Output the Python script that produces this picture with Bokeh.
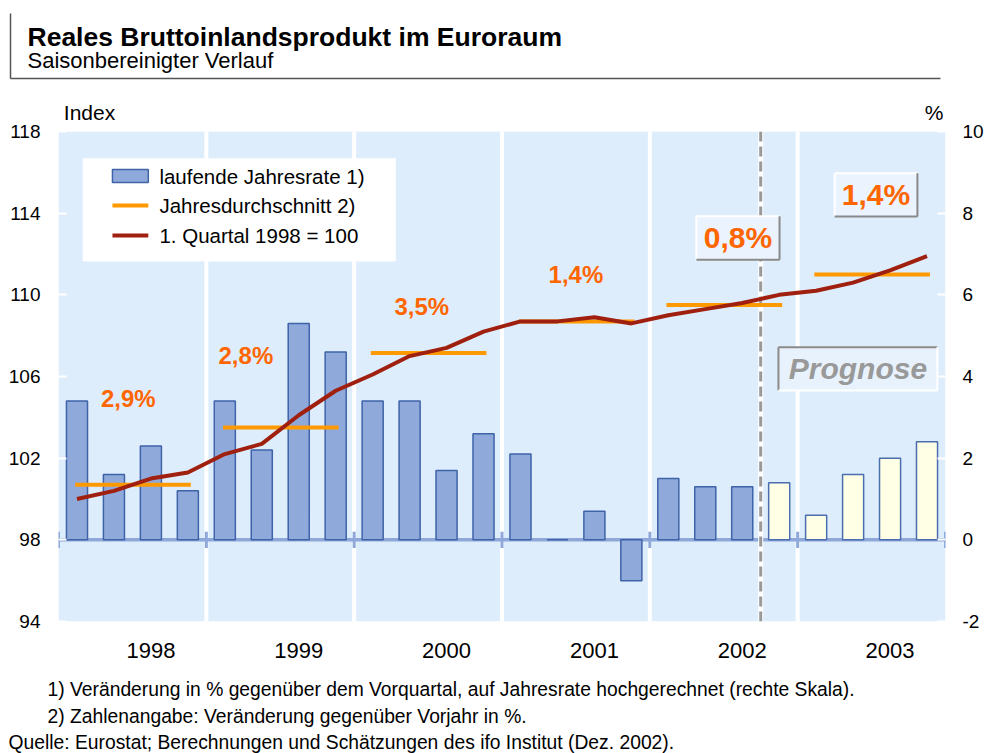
from bokeh.plotting import figure
from bokeh.models import Range1d, LinearAxis, FixedTicker
from bokeh.layouts import column
from bokeh.core.properties import value
from bokeh.embed import file_html
from bokeh.resources import INLINE

# ---------------- data ----------------
years = ["1998", "1999", "2000", "2001", "2002", "2003"]
# laufende Jahresrate (right scale, %), quarterly
rate = [3.4, 1.6, 2.3, 1.2,
        3.4, 2.2, 5.3, 4.6,
        3.4, 3.4, 1.7, 2.6,
        2.1, 0.0, 0.7, -1.0,
        1.5, 1.3, 1.3, 1.4,
        0.6, 1.6, 2.0, 2.4]
# 1. Quartal 1998 = 100 (left scale), quarterly
index = [100.0, 100.4, 101.0, 101.3,
         102.2, 102.7, 104.1, 105.3,
         106.1, 107.0, 107.4, 108.2,
         108.7, 108.7, 108.9, 108.6,
         109.0, 109.3, 109.6, 110.0,
         110.2, 110.6, 111.2, 111.9]
# Jahresdurchschnitt (left scale)
avg_index = [100.7, 103.5, 107.15, 108.7, 109.5, 111.0]
growth_labels = ["2,9%", "2,8%", "3,5%", "1,4%", "0,8%", "1,4%"]
n_observed = 19  # quarters before the forecast
left_ticks = [94, 98, 102, 106, 110, 114, 118]
right_ticks = [-2, 0, 2, 4, 6, 8, 10]
axis_titles = ["Index", "%"]

FONT = value("Liberation Sans")
W = 986


def block(h, y0):
    f = figure(width=W, height=h, x_range=Range1d(0, W), y_range=Range1d(y0 + h, y0),
               toolbar_location=None, output_backend="svg", min_border=0,
               x_axis_location=None, y_axis_location=None, frame_align=False)
    f.grid.visible = False
    f.outline_line_color = None
    return f


# ---------------- top block (page coordinates) ----------------
TOP_H = 92
top = block(TOP_H, 0)
top.segment(x0=[10, 10], y0=[13, 78], x1=[10, 940], y1=[78, 78], line_color="#555555", line_width=1.5)
top.text(x=[27], y=[36], text=["Reales Bruttoinlandsprodukt im Euroraum"], text_font=FONT,
         text_font_style="bold", text_font_size="26.5px", text_baseline="alphabetic", text_color="black")
top.text(x=[27], y=[60], text=["Saisonbereinigter Verlauf"], text_font=FONT,
         text_font_size="22px", text_baseline="alphabetic", text_color="black")

# ---------------- chart ----------------
MID_TOP = 131 - TOP_H
MID_BOT = 49
p = figure(width=W, height=MID_TOP + 490 + MID_BOT, x_range=Range1d(0, 24), y_range=Range1d(94, 118),
           toolbar_location=None, output_backend="svg", frame_align=False,
           min_border_left=58, min_border_right=40, min_border_top=MID_TOP, min_border_bottom=MID_BOT,
           x_axis_location=None, y_axis_location=None)
p.extra_y_ranges = {"pct": Range1d(-2, 10)}
p.grid.visible = False
p.outline_line_color = None
p.background_fill_color = "white"

nyear = len(years)
starts = [4 * i for i in range(nyear)]
p.quad(left=starts, right=[s + 4 for s in starts], bottom=94, top=118,
       fill_color="#DEEDFC", line_color=None)
p.segment(x0=starts[1:], x1=starts[1:], y0=94, y1=118, line_color="white", line_width=4)

# zero line with year ticks
p.segment(x0=[0], x1=[24], y0=[0], y1=[0], y_range_name="pct", line_color="#8FA8DA", line_width=3.5)
bounds = starts + [24]
p.segment(x0=bounds, x1=bounds, y0=-0.2, y1=0.2, y_range_name="pct", line_color="#8FA8DA", line_width=3)

qx = [i + 0.5 for i in range(len(rate))]
p.vbar(x=qx[:n_observed], top=rate[:n_observed], bottom=0, width=0.57, y_range_name="pct",
       fill_color="#8FA9DB", line_color="#3F63A8", line_width=1.5)
p.vbar(x=qx[n_observed:], top=rate[n_observed:], bottom=0, width=0.57, y_range_name="pct",
       fill_color="#FFFFE6", line_color="#4A6DB0", line_width=1.5)

# forecast separator
p.segment(x0=[n_observed], x1=[n_observed], y0=[94], y1=[118], line_color="white", line_width=5)
p.segment(x0=[n_observed], x1=[n_observed], y0=[94], y1=[118], line_color="#999999",
          line_width=3, line_dash="10 5")

# annual averages
p.segment(x0=[s + 0.45 for s in starts], x1=[s + 3.58 for s in starts], y0=avg_index, y1=avg_index,
          line_color="#FF9900", line_width=4)
# index line
p.line(qx, index, line_color="#A0200F", line_width=4)

# small growth labels
lab_x = [1.89, 5.07, 9.83, 14.0]
lab_y = [104.92, 107.03, 109.44, 111.0]
p.text(x=lab_x, y=lab_y, text=growth_labels[:4], text_font=FONT, text_font_style="bold",
       text_font_size="24px", text_color="#FF6600", text_align="center", text_baseline="middle")

# boxed labels (0,8% and 1,4%)
bl = [17.26, 21.0]
br = [19.51, 23.24]
bb = [111.72, 113.84]
bt = [113.85, 115.96]
p.quad(left=bl, right=br, bottom=bb, top=bt, fill_color="#EAF3FE", line_color=None)
p.segment(x0=bl, x1=br, y0=bt, y1=bt, line_color="white", line_width=2)
p.segment(x0=bl, x1=bl, y0=bb, y1=bt, line_color="white", line_width=2)
p.segment(x0=bl, x1=br, y0=bb, y1=bb, line_color="#8A8A8A", line_width=2)
p.segment(x0=br, x1=br, y0=bb, y1=bt, line_color="#8A8A8A", line_width=2)
p.text(x=[(a + b) / 2 for a, b in zip(bl, br)], y=[(a + b) / 2 for a, b in zip(bb, bt)],
       text=growth_labels[4:], text_font=FONT, text_font_style="bold", text_font_size="30px",
       text_color="#FF6600", text_align="center", text_baseline="middle")

# Prognose box
pl, pr, pb, pt = 19.48, 23.78, 105.31, 107.43
p.quad(left=[pl], right=[pr], bottom=[pb], top=[pt], fill_color="#E8F2FD", line_color=None)
p.segment(x0=[pl, pl], x1=[pr, pl], y0=[pt, pb], y1=[pt, pt], line_color="#8A8A8A", line_width=2)
p.segment(x0=[pl, pr], x1=[pr, pr], y0=[pb, pb], y1=[pb, pt], line_color="white", line_width=2)
p.text(x=[(pl + pr) / 2], y=[(pb + pt) / 2], text=["Prognose"], text_font=FONT,
       text_font_style="bold italic", text_font_size="30px", text_color="#999999",
       text_align="center", text_baseline="middle")

# legend
p.quad(left=[0.657], right=[9.127], bottom=[111.63], top=[116.69], fill_color="white", line_color=None)
p.quad(left=[1.46], right=[2.43], bottom=[115.5], top=[116.14], fill_color="#8FA9DB",
       line_color="#3F63A8", line_width=1.5)
p.segment(x0=[1.46], x1=[2.43], y0=[114.38], y1=[114.38], line_color="#FF9900", line_width=4)
p.segment(x0=[1.46], x1=[2.43], y0=[112.91], y1=[112.91], line_color="#A0200F", line_width=4)
p.text(x=[2.73] * 3, y=[115.8, 114.38, 112.91],
       text=["laufende Jahresrate 1)", "Jahresdurchschnitt 2)", "1. Quartal 1998 = 100"],
       text_font=FONT, text_font_size="20.5px", text_color="black", text_baseline="middle")

# axes
ax_l = LinearAxis(ticker=FixedTicker(ticks=left_ticks))
ax_r = LinearAxis(y_range_name="pct", ticker=FixedTicker(ticks=right_ticks),
                  major_label_overrides={t: str(t) for t in right_ticks})
ax_b = LinearAxis(ticker=FixedTicker(ticks=[s + 2.5 for s in starts]),
                  major_label_overrides={s + 2.5: y for s, y in zip(starts, years)})
# axis titles "Index" (left scale) and "%" (right scale) shown above the plot area
title_pos = [0.84, 23.69]
ax_t = LinearAxis(ticker=FixedTicker(ticks=title_pos),
                  major_label_overrides={x: t for x, t in zip(title_pos, axis_titles)})
for ax in (ax_l, ax_r, ax_b, ax_t):
    ax.axis_line_color = None
    ax.minor_tick_line_color = None
    ax.major_tick_out = 0
    ax.major_label_text_font = "Liberation Sans"
    ax.major_label_text_color = "black"
ax_l.major_label_text_font_size = "19px"
ax_r.major_label_text_font_size = "19px"
ax_b.major_label_text_font_size = "22px"
ax_t.major_label_text_font_size = "21px"
for ax in (ax_l, ax_r):
    ax.major_tick_in = 8
    ax.major_tick_line_color = "white"
    ax.major_tick_line_width = 2
for ax in (ax_b, ax_t):
    ax.major_tick_line_color = None
    ax.major_tick_in = 0
ax_l.major_label_standoff = 18
ax_r.major_label_standoff = 17
ax_b.major_label_standoff = 21
ax_t.major_label_standoff = 8
p.add_layout(ax_l, "left")
p.add_layout(ax_r, "right")
p.add_layout(ax_b, "below")
p.add_layout(ax_t, "above")

# ---------------- bottom block (page coordinates) ----------------
bot_y0 = TOP_H + MID_TOP + 490 + MID_BOT
BOT_H = 753 - bot_y0
bot = block(BOT_H, bot_y0)
notes = ["1) Veränderung in % gegenüber dem Vorquartal, auf Jahresrate hochgerechnet (rechte Skala).",
         "2) Zahlenangabe: Veränderung gegenüber Vorjahr in %.",
         "Quelle: Eurostat; Berechnungen und Schätzungen des ifo Institut (Dez. 2002)."]
bot.text(x=[47, 47, 8], y=[689, 716, 742], text=notes, text_font=FONT, text_font_size="19.3px",
         text_color="black", text_baseline="alphabetic")

layout = column(top, p, bot, spacing=0)
open("out.html", "w").write(file_html(layout, INLINE))
